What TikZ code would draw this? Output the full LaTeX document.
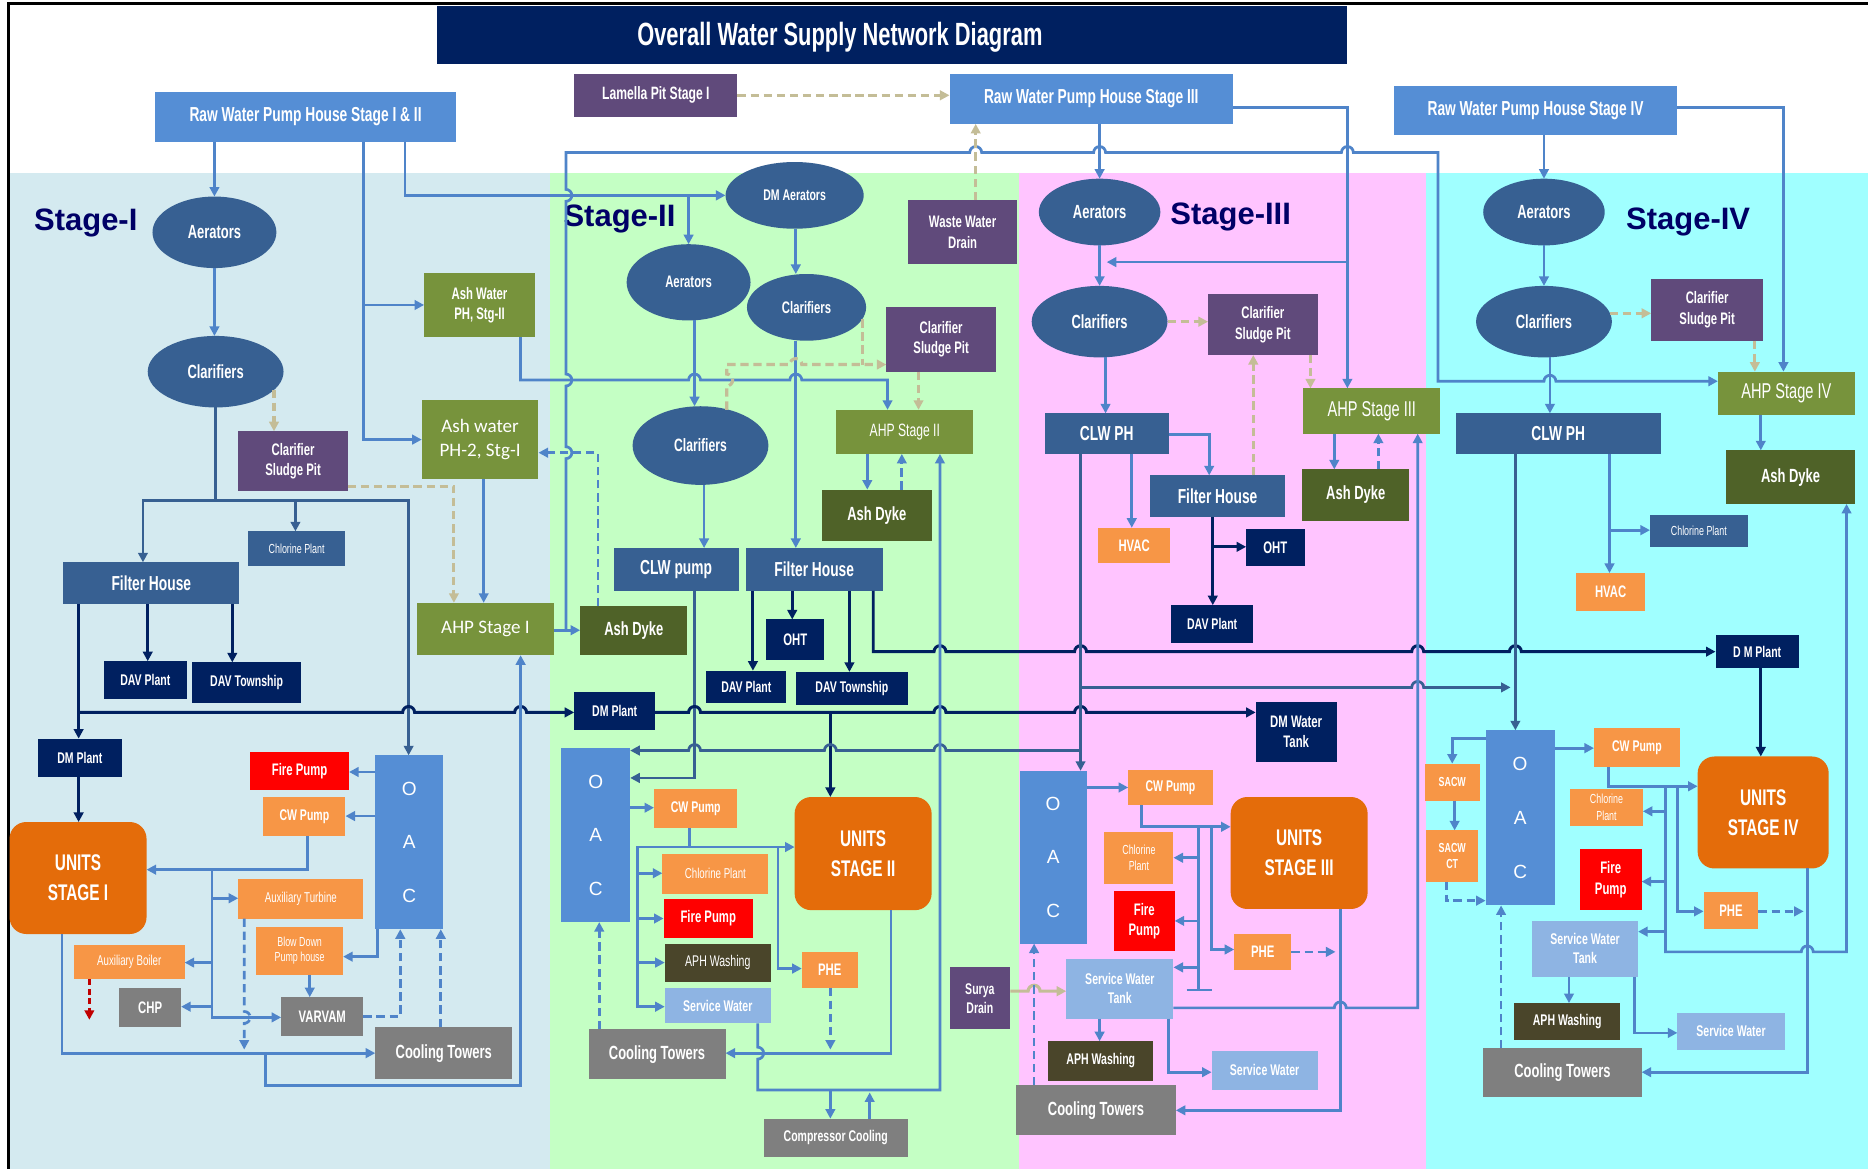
\documentclass[tikz,border=0pt]{standalone}
\usepackage{fontspec}
\setmainfont{Liberation Sans}
\newfontfamily\nar{Liberation Sans}[FakeStretch=0.68]
\newfontfamily\calfont{Carlito}
\usetikzlibrary{arrows.meta,shapes.geometric}

\definecolor{navy}{HTML}{002060}
\definecolor{medblue}{HTML}{558ED5}
\definecolor{steel}{HTML}{376092}
\definecolor{olive}{HTML}{77933C}
\definecolor{dolive}{HTML}{4F6228}
\definecolor{purp}{HTML}{604A7B}
\definecolor{orng}{HTML}{F79646}
\definecolor{dorng}{HTML}{E46C0A}
\definecolor{gry}{HTML}{7F7F7F}
\definecolor{aphc}{HTML}{4A452A}
\definecolor{lblue}{HTML}{8EB4E3}
\definecolor{lnblue}{HTML}{4F84C9}
\definecolor{tanc}{HTML}{C4BD97}
\definecolor{bgone}{HTML}{D4EAF0}
\definecolor{bgtwo}{HTML}{C4FFC4}
\definecolor{bgthree}{HTML}{FFC4FF}
\definecolor{bgfour}{HTML}{A0FFFF}
\definecolor{stagec}{HTML}{000066}
\definecolor{dred}{HTML}{C00000}

% font helpers: size, baselineskip
\newcommand\fntb[2]{\nar\bfseries\fontsize{#1}{#2}\selectfont}
\newcommand\fntr[2]{\nar\fontsize{#1}{#2}\selectfont}
\newcommand\fntw[2]{\normalfont\fontsize{#1}{#2}\selectfont}
\newcommand\fntc[2]{\calfont\fontsize{#1}{#2}\selectfont}

% box from corners: name, x1, y1, x2, y2, options, text
\newcommand\boxnode[7]{\node[nd,#6,minimum width={#4-#2},minimum height={#5-#3}] (#1) at ({(#2+#4)/2},{(#3+#5)/2}) {#7};}
% ellipse: name, cx, cy, rx, ry, font size, text
\newcommand\ellnode[7]{\node[ell,font=\fntb{#6}{#6},minimum width={2*#4},minimum height={2*#5}] (#1) at (#2,#3) {#7};}

\tikzset{
  nd/.style={rectangle,inner sep=1pt,outer sep=0pt,align=center,text=white,font=\fntb{14}{16}},
  ell/.style={ellipse,inner sep=0pt,outer sep=0pt,align=center,text=white,fill=steel},
  unitbox/.style={fill=dorng,rounded corners=14pt,font=\fntb{19}{25}},
  oacbox/.style={fill=medblue,font=\fntw{16}{45}},
  arr/.style={-{Triangle[length=8pt,width=8pt]}},
  bl/.style={draw=lnblue,line width=2.3pt},
  st/.style={draw=steel,line width=2.3pt},
  nv/.style={draw=navy,line width=2.5pt},
  tn/.style={draw=tanc,line width=2.6pt,dash pattern=on 7pt off 4pt},
  tns/.style={draw=tanc,line width=2.6pt},
  bd/.style={draw=lnblue,line width=2.3pt,dash pattern=on 7pt off 4pt},
  rd/.style={draw=dred,line width=2.3pt,dash pattern=on 5pt off 3pt},
  stagelbl/.style={text=stagec,font=\fntw{26}{30}\bfseries},
}

\begin{document}
\begin{tikzpicture}[x=1pt,y=-1pt]
\useasboundingbox (0,0) rectangle (1568,981);

% stage backgrounds and frame
\fill[white] (0,0) rectangle (1568,981);
\fill[bgone] (7,145) rectangle (462,981);
\fill[bgtwo] (462,145) rectangle (855,981);
\fill[bgthree] (855,145) rectangle (1197,981);
\fill[bgfour] (1197,145) rectangle (1568,981);
\draw[line width=2pt] (7,990) -- (7,3) -- (1575,3);

% title
\fill[navy] (367,5) rectangle (1131,54);
\node[text=white,font=\fntb{27}{30}] (title) at (705,31) {Overall Water Supply Network Diagram};

% stage labels
\node[stagelbl] (s1) at (72,187) {Stage-I};
\node[stagelbl] (s2) at (520,184) {Stage-II};
\node[stagelbl] (s3) at (1033,182) {Stage-III};
\node[stagelbl] (s4) at (1417,186) {Stage-IV};

% ---------- top row ----------
\boxnode{rw1}{130}{77}{383}{119}{fill=medblue,font=\fntb{17}{19}}{Raw Water Pump House Stage I \& II}
\boxnode{lam}{482}{62}{619}{98}{fill=purp,font=\fntb{15}{17}}{Lamella Pit Stage I}
\boxnode{rw3}{797}{62}{1035}{104}{fill=medblue,font=\fntb{17}{19}}{Raw Water Pump House Stage III}
\boxnode{rw4}{1170}{72}{1408}{113}{fill=medblue,font=\fntb{17}{19}}{Raw Water Pump House Stage IV}

% ---------- ellipses ----------
\ellnode{aer1}{180}{195}{52}{30}{16}{Aerators}
\ellnode{clar1}{181}{312}{57}{30}{16}{Clarifiers}
\ellnode{dmaer}{667}{164}{58}{28}{13}{DM Aerators}
\ellnode{aer2}{578}{237}{52}{32}{14}{Aerators}
\ellnode{clar2a}{677}{258}{50}{28}{14}{Clarifiers}
\ellnode{clar2b}{588}{374}{57}{33}{15}{Clarifiers}
\ellnode{aer3}{923}{178}{51}{28}{16}{Aerators}
\ellnode{clar3}{923}{270}{57}{30}{16}{Clarifiers}
\ellnode{aer4}{1296}{178}{51}{28}{16}{Aerators}
\ellnode{clar4}{1296}{270}{57}{30}{16}{Clarifiers}

% ---------- stage I ----------
\boxnode{aps2}{356}{229}{449}{283}{fill=olive,font=\fntb{14}{17}}{Ash Water\\PH, Stg-II}
\boxnode{apw2}{354}{336}{452}{402}{fill=olive,font=\fntc{16}{20}}{Ash water\\PH-2, Stg-I}
\boxnode{cs1}{200}{362}{292}{412}{fill=purp,font=\fntb{14}{17}}{Clarifier\\Sludge Pit}
\boxnode{chl1}{208}{446}{290}{475}{fill=steel,font=\fntr{11}{12}}{Chlorine Plant}
\boxnode{fh1}{53}{472}{201}{507}{fill=steel,font=\fntb{17}{19}}{Filter House}
\boxnode{dav1}{87}{555}{157}{587}{fill=navy,font=\fntb{13}{15}}{DAV Plant}
\boxnode{davt1}{161}{556}{253}{590}{fill=navy,font=\fntb{13}{15}}{DAV Township}
\boxnode{dm1}{32}{620}{102}{652}{fill=navy,font=\fntb{13}{15}}{DM Plant}
\boxnode{ahp1}{350}{506}{465}{550}{fill=olive,font=\fntc{16}{18}}{AHP Stage I}
\boxnode{ash2}{487}{509}{577}{550}{fill=dolive,font=\fntb{16}{18}}{Ash Dyke}
\boxnode{fp1}{210}{631}{293}{663}{fill=red,font=\fntb{14}{16}}{Fire Pump}
\boxnode{cw1}{221}{669}{290}{702}{fill=orng,font=\fntb{13}{15}}{CW Pump}
\boxnode{oac1}{315}{634}{372}{780}{oacbox}{O\\A\\C}
\boxnode{units1}{8}{690}{123}{784}{unitbox}{UNITS\\STAGE I}
\boxnode{auxt}{200}{738}{305}{771}{fill=orng,font=\fntr{12}{14}}{Auxiliary Turbine}
\boxnode{bdph}{215}{778}{288}{818}{fill=orng,font=\fntr{11}{13}}{Blow Down\\Pump house}
\boxnode{auxb}{62}{793}{155}{822}{fill=orng,font=\fntr{12}{14}}{Auxiliary Boiler}
\boxnode{chp}{100}{829}{152}{862}{fill=gry,font=\fntb{14}{16}}{CHP}
\boxnode{varvam}{236}{837}{305}{870}{fill=gry,font=\fntb{14}{16}}{VARVAM}
\boxnode{ct1}{315}{862}{430}{906}{fill=gry,font=\fntb{16}{18}}{Cooling Towers}

% ---------- stage II ----------
\boxnode{wwd}{762}{168}{854}{222}{fill=purp,font=\fntb{14}{17}}{Waste Water\\Drain}
\boxnode{cs2}{744}{258}{836}{312}{fill=purp,font=\fntb{14}{17}}{Clarifier\\Sludge Pit}
\boxnode{ahp2}{702}{344}{817}{381}{fill=olive,font=\fntr{15}{17}}{AHP Stage II}
\boxnode{ad2}{690}{411}{782}{454}{fill=dolive,font=\fntb{16}{18}}{Ash Dyke}
\boxnode{clw2}{515}{460}{620}{496}{fill=steel,font=\fntb{17}{19}}{CLW pump}
\boxnode{fh2}{626}{460}{741}{496}{fill=steel,font=\fntb{17}{19}}{Filter House}
\boxnode{oht2}{643}{520}{692}{554}{fill=navy,font=\fntb{14}{16}}{OHT}
\boxnode{dav2}{593}{563}{660}{590}{fill=navy,font=\fntb{13}{15}}{DAV Plant}
\boxnode{davt2}{668}{564}{762}{592}{fill=navy,font=\fntb{13}{15}}{DAV Township}
\boxnode{dm2}{482}{581}{550}{613}{fill=navy,font=\fntb{13}{15}}{DM Plant}
\boxnode{oac2}{471}{628}{529}{774}{oacbox}{O\\A\\C}
\boxnode{cw2}{549}{662}{619}{695}{fill=orng,font=\fntb{13}{15}}{CW Pump}
\boxnode{chl2}{556}{717}{645}{750}{fill=orng,font=\fntr{12}{14}}{Chlorine Plant}
\boxnode{fp2}{557}{755}{632}{787}{fill=red,font=\fntb{14}{16}}{Fire Pump}
\boxnode{aph2}{558}{792}{647}{824}{fill=aphc,font=\fntr{13}{15}}{APH Washing}
\boxnode{sw2}{558}{829}{647}{859}{fill=lblue,font=\fntb{13}{15}}{Service Water}
\boxnode{units2}{667}{669}{782}{764}{unitbox}{UNITS\\STAGE II}
\boxnode{phe2}{673}{799}{720}{829}{fill=orng,font=\fntb{14}{16}}{PHE}
\boxnode{ct2}{494}{864}{609}{906}{fill=gry,font=\fntb{16}{18}}{Cooling Towers}
\boxnode{compc}{641}{939}{762}{971}{fill=gry,font=\fntb{13}{15}}{Compressor Cooling}

% ---------- stage III ----------
\boxnode{cs3}{1014}{247}{1106}{298}{fill=purp,font=\fntb{14}{17}}{Clarifier\\Sludge Pit}
\boxnode{ahp3}{1094}{326}{1209}{364}{fill=olive,font=\fntr{18}{20}}{AHP Stage III}
\boxnode{clw3}{877}{347}{981}{381}{fill=steel,font=\fntb{17}{19}}{CLW PH}
\boxnode{fh3}{965}{399}{1079}{434}{fill=steel,font=\fntb{17}{19}}{Filter House}
\boxnode{ad3}{1093}{394}{1183}{437}{fill=dolive,font=\fntb{16}{18}}{Ash Dyke}
\boxnode{hvac3}{922}{443}{982}{473}{fill=orng,font=\fntb{14}{16}}{HVAC}
\boxnode{oht3}{1046}{444}{1095}{475}{fill=navy,font=\fntb{14}{16}}{OHT}
\boxnode{dav3}{983}{508}{1052}{540}{fill=navy,font=\fntb{13}{15}}{DAV Plant}
\boxnode{dmwt}{1054}{589}{1122}{640}{fill=navy,font=\fntb{14}{17}}{DM Water\\Tank}
\boxnode{oac3}{856}{647}{912}{792}{oacbox}{O\\A\\C}
\boxnode{cw3}{947}{646}{1018}{676}{fill=orng,font=\fntb{13}{15}}{CW Pump}
\boxnode{chl3}{927}{698}{985}{742}{fill=orng,font=\fntr{11}{14}}{Chlorine\\Plant}
\boxnode{fp3}{935}{748}{986}{798}{fill=red,font=\fntb{14}{17}}{Fire\\Pump}
\boxnode{units3}{1033}{669}{1148}{763}{unitbox}{UNITS\\STAGE III}
\boxnode{phe3}{1036}{784}{1084}{814}{fill=orng,font=\fntb{14}{16}}{PHE}
\boxnode{surya}{797}{812}{848}{864}{fill=purp,font=\fntb{13}{16}}{Surya\\Drain}
\boxnode{swt3}{895}{805}{985}{855}{fill=lblue,font=\fntb{13}{16}}{Service Water\\Tank}
\boxnode{aph3}{880}{874}{968}{907}{fill=aphc,font=\fntb{13}{15}}{APH Washing}
\boxnode{sw3}{1017}{882}{1106}{915}{fill=lblue,font=\fntb{13}{15}}{Service Water}
\boxnode{ct3}{853}{911}{987}{953}{fill=gry,font=\fntb{16}{18}}{Cooling Towers}

% ---------- stage IV ----------
\boxnode{cs4}{1386}{234}{1480}{286}{fill=purp,font=\fntb{14}{17}}{Clarifier\\Sludge Pit}
\boxnode{ahp4}{1442}{312}{1557}{348}{fill=olive,font=\fntr{18}{20}}{AHP Stage IV}
\boxnode{clw4}{1222}{347}{1394}{381}{fill=steel,font=\fntb{17}{19}}{CLW PH}
\boxnode{ad4}{1449}{378}{1557}{423}{fill=dolive,font=\fntb{16}{18}}{Ash Dyke}
\boxnode{chl4}{1385}{432}{1467}{459}{fill=steel,font=\fntr{11}{12}}{Chlorine Plant}
\boxnode{hvac4}{1323}{481}{1381}{513}{fill=orng,font=\fntb{14}{16}}{HVAC}
\boxnode{dm4}{1440}{533}{1510}{561}{fill=navy,font=\fntb{13}{15}}{D M Plant}
\boxnode{oac4}{1247}{613}{1305}{760}{oacbox}{O\\A\\C}
\boxnode{sacw}{1196}{641}{1242}{672}{fill=orng,font=\fntb{11}{13}}{SACW}
\boxnode{sacwct}{1197}{697}{1241}{740}{fill=orng,font=\fntb{11}{13}}{SACW\\CT}
\boxnode{cw4}{1338}{611}{1410}{644}{fill=orng,font=\fntb{13}{15}}{CW Pump}
\boxnode{chl4b}{1318}{662}{1379}{693}{fill=orng,font=\fntr{11}{14}}{Chlorine\\Plant}
\boxnode{units4}{1425}{635}{1535}{729}{unitbox}{UNITS\\STAGE IV}
\boxnode{fp4}{1326}{713}{1378}{764}{fill=red,font=\fntb{14}{17}}{Fire\\Pump}
\boxnode{phe4}{1430}{749}{1476}{780}{fill=orng,font=\fntb{14}{16}}{PHE}
\boxnode{swt4}{1286}{773}{1375}{820}{fill=lblue,font=\fntb{13}{16}}{Service Water\\Tank}
\boxnode{aph4}{1271}{842}{1360}{873}{fill=aphc,font=\fntb{13}{15}}{APH Washing}
\boxnode{sw4}{1408}{850}{1498}{881}{fill=lblue,font=\fntb{13}{15}}{Service Water}
\boxnode{ct4}{1245}{880}{1378}{921}{fill=gry,font=\fntb{16}{18}}{Cooling Towers}

% =============== connectors ===============
% --- stage I, raw water and clarification
\draw[bl,arr] (rw1.south -| aer1.north) -- (aer1.north);
\draw[bl,arr] (rw1.south -| 305,0) -- (305,369) -- (apw2.west);
\draw[bl,arr] (305,256) -- (aps2.west);
\draw[bl,arr] (rw1.south -| 340,0) -- (340,164) -- (dmaer.west);
\draw[bl,arr] (578,164) -- (aer2.north);
\draw[bl,arr] (aer1.south) -- (aer1.south |- clar1.north);
\draw[tn,arr] (230,327) -- (cs1.north -| 230,0);
\draw[st] (clar1.south) -- (181,420);
\draw[st,arr] (181,420) -- (120,420) -- (fh1.north -| 120,0);
\draw[st,arr] (181,420) -- (343,420) -- (oac1.north -| 343,0);
\draw[st,arr] (248,420) -- (chl1.north -| 248,0);
\draw[tn,arr] (cs1.east |- 0,408) -- (381,408) -- (ahp1.north -| 381,0);
\draw[bl,arr] (apw2.south -| 406,0) -- (ahp1.north -| 406,0);
\draw[nv,arr] (fh1.south -| 66,0) -- (dm1.north -| 66,0);
\draw[nv,arr] (fh1.south -| 124,0) -- (dav1.north -| 124,0);
\draw[nv,arr] (fh1.south -| 195,0) -- (davt1.north -| 195,0);
\draw[nv,arr] (dm1.south -| 66,0) -- (units1.north -| 66,0);
\draw[nv,arr] (66,598) -- (338,598) arc[start angle=180,end angle=0,radius=5pt]
   -- (432,598) arc[start angle=180,end angle=0,radius=5pt] -- (dm2.west |- 0,598);

% --- ash handling lines
\draw[bl,arr] (ahp1.east |- 0,529) -- (ash2.west |- 0,529);
\draw[bl,arr] (475,529) -- (475,385) arc[start angle=-90,end angle=90,radius=5pt]
   -- (475,324) arc[start angle=-90,end angle=90,radius=5pt]
   -- (475,169) arc[start angle=-90,end angle=90,radius=5pt]
   -- (475,128) -- (814,128) arc[start angle=180,end angle=0,radius=5pt]
   -- (918,128) arc[start angle=180,end angle=0,radius=5pt]
   -- (1126,128) arc[start angle=180,end angle=0,radius=5pt]
   -- (1207,128) -- (1207,320) -- (1296,320) arc[start angle=180,end angle=0,radius=5pt]
   -- (ahp4.west |- 0,320);
\draw[bd,arr] (ash2.north -| 502,0) -- (502,380) -- (apw2.east |- 0,380);
\draw[bl,arr] (aps2.south -| 437,0) -- (437,319) -- (578,319) arc[start angle=180,end angle=0,radius=5pt]
   -- (663,319) arc[start angle=180,end angle=0,radius=5pt] -- (745,319) -- (ahp2.north -| 745,0);

% --- stage II, top
\draw[tn,arr] (lam.east) -- (lam.east -| rw3.west);
\draw[tn,arr] (wwd.north -| 819,0) -- (rw3.south -| 819,0);
\draw[bl,arr] (dmaer.south -| 668,0) -- (clar2a.north -| 668,0);
\draw[bl,arr] (aer2.south -| 583,0) -- (clar2b.north -| 583,0);
\draw[bl,arr] (clar2a.south -| 668,0) -- (fh2.north -| 668,0);
\draw[bl,arr] (clar2b.south -| 591,0) -- (clw2.north -| 591,0);
\draw[tn] (724,268) -- (724,306);
\draw[tn,arr] (610,344) -- (610,324) arc[start angle=-90,end angle=90,radius=5pt]
   -- (610,306) -- (663,306) arc[start angle=180,end angle=0,radius=5pt] -- (cs2.west |- 0,306);
\draw[tn,arr] (cs2.south -| 771,0) -- (ahp2.north -| 771,0);
\draw[bl,arr] (ahp2.south -| 728,0) -- (ad2.north -| 728,0);
\draw[bd,arr] (ad2.north -| 757,0) -- (ahp2.south -| 757,0);
\draw[st,arr] (clw2.south -| 583,0) -- (583,653) -- (oac2.east |- 0,653);
\draw[nv,arr] (fh2.south -| 632,0) -- (dav2.north -| 632,0);
\draw[nv,arr] (fh2.south -| 665,0) -- (oht2.north -| 665,0);
\draw[nv,arr] (fh2.south -| 713,0) -- (davt2.north -| 713,0);
\draw[nv,arr] (fh2.south -| 733,0) -- (733,547) -- (784,547) arc[start angle=180,end angle=0,radius=5pt]
   -- (902,547) arc[start angle=180,end angle=0,radius=5pt]
   -- (1185,547) arc[start angle=180,end angle=0,radius=5pt]
   -- (1267,547) arc[start angle=180,end angle=0,radius=5pt] -- (dm4.west |- 0,547);
\draw[nv,arr] (dm2.east |- 0,598) -- (578,598) arc[start angle=180,end angle=0,radius=5pt]
   -- (784,598) arc[start angle=180,end angle=0,radius=5pt]
   -- (902,598) arc[start angle=180,end angle=0,radius=5pt] -- (dmwt.west |- 0,598);
\draw[nv,arr] (697,598) -- (units2.north -| 697,0);
\draw[st,arr] (907,630) -- (794,630) arc[start angle=0,end angle=180,radius=5pt]
   -- (702,630) arc[start angle=0,end angle=180,radius=5pt]
   -- (588,630) arc[start angle=0,end angle=180,radius=5pt] -- (oac2.east |- 0,630);

% --- stage II, units area
\draw[bl,arr] (oac2.east |- 0,678) -- (cw2.west |- 0,678);
\draw[bl,arr] (cw2.south -| 579,0) -- (579,711) -- (units2.west |- 0,711);
\draw[bl,arr] (579,711) -- (535,711) -- (535,845) -- (sw2.west |- 0,845);
\draw[bl,arr] (535,733) -- (chl2.west |- 0,733);
\draw[bl,arr] (535,771) -- (fp2.west |- 0,771);
\draw[bl,arr] (535,808) -- (aph2.west |- 0,808);
\draw[bl,arr] (653,711) -- (653,813) -- (phe2.west |- 0,813);
\draw[bl,arr] (units2.south -| 748,0) -- (748,884) -- (ct2.east |- 0,884);
\draw[bd,arr] (phe2.south -| 697,0) -- (697,881);
\draw[bl,arr] (sw2.south -| 636,0) -- (636,879) arc[start angle=90,end angle=-90,radius=5pt]
   -- (636,915) -- (789,915) -- (ahp2.south -| 789,0);
\draw[bl,arr] (697,915) -- (compc.north -| 697,0);
\draw[bl,arr] (compc.north -| 730,0) -- (730,917);
\draw[bd,arr] (ct2.north -| 503,0) -- (oac2.south -| 503,0);

% --- stage I, units area
\draw[bl,arr] (oac1.west |- 0,648) -- (fp1.east |- 0,648);
\draw[bl,arr] (oac1.west |- 0,685) -- (cw1.east |- 0,685);
\draw[bl,arr] (cw1.south -| 258,0) -- (258,730) -- (units1.east |- 0,730);
\draw[bl,arr] (178,730) -- (178,854) -- (varvam.west |- 0,854);
\draw[bl,arr] (178,754) -- (auxt.west |- 0,754);
\draw[bl,arr] (178,808) -- (auxb.east |- 0,808);
\draw[bl,arr] (178,845) -- (chp.east |- 0,845);
\draw[bd,arr] (auxt.south -| 205,0) -- (205,849) arc[start angle=90,end angle=-90,radius=5pt] -- (205,881);
\draw[bl,arr] (units1.south -| 52,0) -- (52,884) -- (ct1.west |- 0,884);
\draw[bl,arr] (223,884) -- (223,911) -- (437,911) -- (ahp1.south -| 437,0);
\draw[bl,arr] (bdph.south -| 260,0) -- (varvam.north -| 260,0);
\draw[bl,arr] (oac1.south -| 317,0) -- (317,803) -- (bdph.east |- 0,803);
\draw[bd,arr] (varvam.east |- 0,853) -- (336,853) -- (oac1.south -| 336,0);
\draw[bd,arr] (ct1.north -| 370,0) -- (oac1.south -| 370,0);
\draw[rd,arr] (auxb.south -| 75,0) -- (75,856);

% --- stage III
\draw[bl,arr] (rw3.south -| aer3.north) -- (aer3.north);
\draw[bl,arr] (rw3.east |- 0,90) -- (1131,90) -- (ahp3.north -| 1131,0);
\draw[bl,arr] (1131,220) -- (929,220);
\draw[bl,arr] (aer3.south) -- (clar3.north);
\draw[tn,arr] (clar3.east) -- (cs3.west |- clar3.east);
\draw[tn,arr] (cs3.south -| 1100,0) -- (ahp3.north -| 1100,0);
\draw[tn,arr] (fh3.north -| 1052,0) -- (cs3.south -| 1052,0);
\draw[bl,arr] (clar3.south -| 928,0) -- (clw3.north -| 928,0);
\draw[bl,arr] (clw3.east |- 0,365) -- (1015,365) -- (fh3.north -| 1015,0);
\draw[bl,arr] (clw3.south -| 950,0) -- (hvac3.north -| 950,0);
\draw[nv,arr] (fh3.south -| 1018,0) -- (dav3.north -| 1018,0);
\draw[nv,arr] (1018,459) -- (oht3.west |- 0,459);
\draw[bl,arr] (ahp3.south -| 1120,0) -- (ad3.north -| 1120,0);
\draw[bd,arr] (ad3.north -| 1157,0) -- (ahp3.south -| 1157,0);
\draw[st,arr] (clw3.south -| 907,0) -- (oac3.north -| 907,0);
\draw[st,arr] (907,577) -- (1185,577) arc[start angle=180,end angle=0,radius=5pt] -- (1268,577);
\draw[bl,arr] (oac3.east |- 0,661) -- (cw3.west |- 0,661);
\draw[bl,arr] (cw3.south -| 958,0) -- (958,694) -- (units3.west |- 0,694);
\draw[bl] (1006,694) -- (1006,831);
\draw[bl] (996,831) -- (1017,831);
\draw[bl,arr] (1006,720) -- (chl3.east |- 0,720);
\draw[bl,arr] (1006,773) -- (fp3.east |- 0,773);
\draw[bl,arr] (1006,812) -- (swt3.east |- 0,812);
\draw[bl,arr] (1017,694) -- (1017,797) -- (phe3.west |- 0,797);
\draw[bd,arr] (phe3.east |- 0,799) -- (1121,799);
\draw[bl,arr] (units3.south -| 1125,0) -- (1125,932) -- (ct3.east |- 0,932);
\draw[bl,arr] (swt3.east |- 0,846) -- (1120,846) arc[start angle=180,end angle=0,radius=5pt]
   -- (1190,846) -- (ahp3.south -| 1190,0);
\draw[bl,arr] (swt3.south -| 923,0) -- (aph3.north -| 923,0);
\draw[bl,arr] (swt3.south -| 981,0) -- (981,900) -- (sw3.west |- 0,900);
\draw[tns,arr] (surya.east |- 0,832) -- (863,832) arc[start angle=180,end angle=0,radius=5pt] -- (swt3.west |- 0,832);
\draw[bd,arr] (ct3.north -| 868,0) -- (oac3.south -| 868,0);

% --- stage IV
\draw[bl,arr] (rw4.south -| aer4.north) -- (aer4.north);
\draw[bl,arr] (rw4.east |- 0,90) -- (1497,90) -- (ahp4.north -| 1497,0);
\draw[bl,arr] (aer4.south) -- (clar4.north);
\draw[tn,arr] (1351,263) -- (cs4.west |- 0,263);
\draw[tn,arr] (cs4.south -| 1473,0) -- (ahp4.north -| 1473,0);
\draw[bl,arr] (clar4.south -| 1301,0) -- (clw4.north -| 1301,0);
\draw[bl,arr] (ahp4.south -| 1478,0) -- (ad4.north -| 1478,0);
\draw[st,arr] (clw4.south -| 1272,0) -- (oac4.north -| 1272,0);
\draw[bl,arr] (clw4.south -| 1351,0) -- (hvac4.north -| 1351,0);
\draw[bl,arr] (1351,445) -- (chl4.west |- 0,445);
\draw[nv,arr] (dm4.south -| 1478,0) -- (units4.north -| 1478,0);
\draw[bl,arr] (oac4.east |- 0,628) -- (cw4.west |- 0,628);
\draw[bl,arr] (oac4.west |- 0,620) -- (1219,620) -- (sacw.north -| 1219,0);
\draw[bl,arr] (sacw.south -| 1221,0) -- (sacwct.north -| 1221,0);
\draw[bd,arr] (sacwct.south -| 1214,0) -- (1214,756) -- (oac4.west |- 0,756);
\draw[bl,arr] (cw4.south -| 1350,0) -- (1350,660) -- (units4.west |- 0,660);
\draw[bl,arr] (1398,660) -- (1398,799) -- (1512,799) arc[start angle=180,end angle=0,radius=5pt]
   -- (1550,799) -- (ad4.south -| 1550,0);
\draw[bl,arr] (1398,681) -- (chl4b.east |- 0,681);
\draw[bl,arr] (1398,740) -- (fp4.east |- 0,740);
\draw[bl,arr] (1398,782) -- (swt4.east |- 0,782);
\draw[bl,arr] (1408,660) -- (1408,765) -- (phe4.west |- 0,765);
\draw[bd,arr] (phe4.east |- 0,765) -- (1514,765);
\draw[bl,arr] (units4.south -| 1517,0) -- (1517,900) -- (ct4.east |- 0,900);
\draw[bl,arr] (swt4.south -| 1317,0) -- (aph4.north -| 1317,0);
\draw[bl,arr] (swt4.south -| 1372,0) -- (1372,867) -- (sw4.west |- 0,867);
\draw[bd,arr] (ct4.north -| 1260,0) -- (oac4.south -| 1260,0);
\end{tikzpicture}
\end{document}
